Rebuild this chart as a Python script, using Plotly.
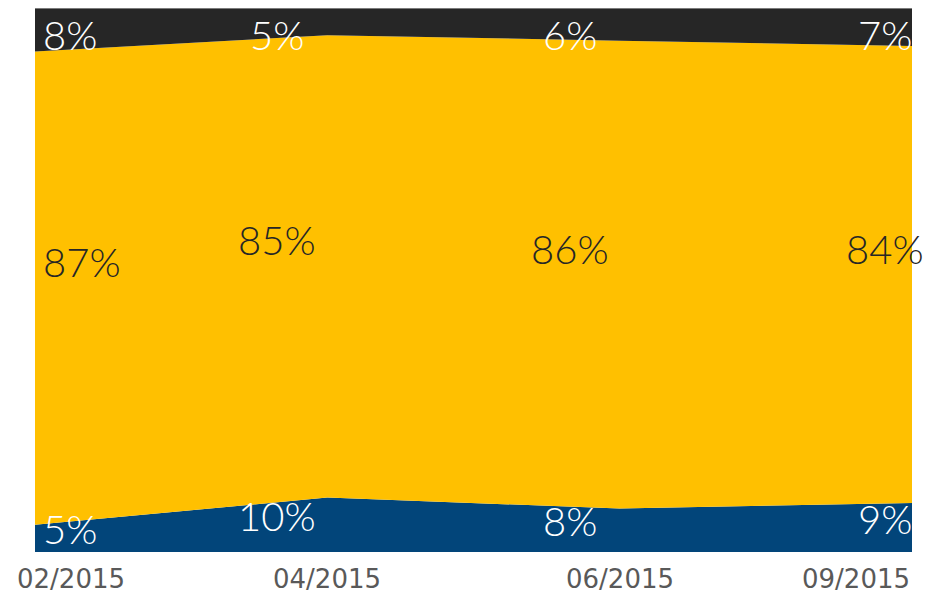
import plotly.graph_objects as go

# data
months = ["02/2015", "04/2015", "06/2015", "09/2015"]
bottom_pct = [5, 10, 8, 9]
middle_pct = [87, 85, 86, 84]
top_pct = [8, 5, 6, 7]

series = [
    ("bottom", bottom_pct, "#02457A", "white", 9),
    ("middle", middle_pct, "#FFC000", "#262626", 26),
    ("top", top_pct, "#262626", "white", None),
]

fig = go.Figure()
for name, vals, col, _, _ in series:
    fig.add_trace(go.Scatter(
        x=months, y=vals, name=name, mode="lines",
        stackgroup="one", line=dict(width=0, color=col),
        fillcolor=col, hoverinfo="x+y"))

label_font = dict(family="Lato", size=40, weight=300)

# data labels: middle of each band, top band hangs from the top edge
base = [0] * len(months)
for name, vals, col, txtcol, shift in series:
    for i, m in enumerate(months):
        if i == 0:
            anchor, xs = "left", 6
        elif i == len(months) - 1:
            anchor, xs = "center", -27
        else:
            anchor, xs = "center", -50
        if shift is None:
            pos = dict(y=1, yref="paper", yanchor="top", yshift=-1)
        else:
            pos = dict(y=base[i] + vals[i] / 2, yshift=shift)
        fig.add_annotation(x=m, text=f"{vals[i]}%", showarrow=False,
                           xanchor=anchor, xshift=xs,
                           font=dict(color=txtcol, **label_font), **pos)
    base = [b + v for b, v in zip(base, vals)]

# category labels under the axis
for i, m in enumerate(months):
    if i == 0:
        anchor, xs = "left", -20
    elif i == len(months) - 1:
        anchor, xs = "right", 0
    else:
        anchor, xs = "center", 0
    fig.add_annotation(x=m, y=0, yref="paper", yanchor="top", yshift=-10,
                       text=m, showarrow=False, xanchor=anchor, xshift=xs,
                       font=dict(family="DejaVu Sans", size=26, color="#595959"))

fig.add_shape(type="line", xref="paper", yref="paper", x0=0, x1=1, y0=1, y1=1,
              line=dict(color="#cfcfcf", width=1))

# page has an 8px body margin, so the figure is a bit smaller than the window
fig.update_layout(
    width=924, height=591,
    margin=dict(l=27, r=20, t=0, b=47),
    paper_bgcolor="white", plot_bgcolor="white",
    showlegend=False,
    xaxis=dict(showticklabels=False, showgrid=False, zeroline=False,
               range=[0, 3], fixedrange=True),
    yaxis=dict(visible=False, range=[0, 100], showgrid=False),
)

fig.write_html("out.html")
